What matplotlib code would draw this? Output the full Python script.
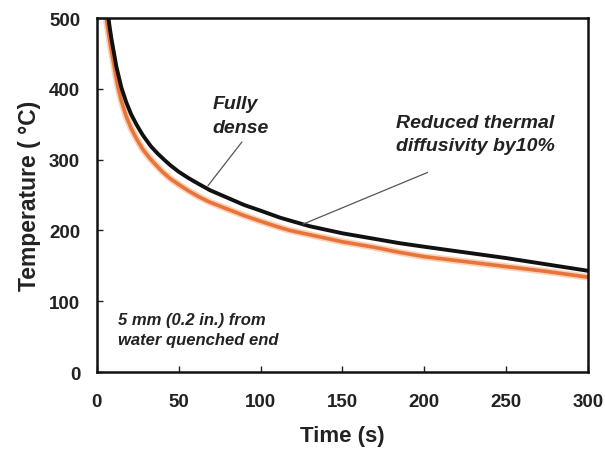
import matplotlib.pyplot as plt

# curves
t_dense = [7.1, 8, 9, 10, 12, 15, 18, 21, 24.4, 28, 33, 37, 41.6, 45, 50, 56, 62, 69,
           80, 90, 100, 112, 118, 130, 150, 170, 185, 200, 225, 250, 275, 300]
T_dense = [500, 485, 470, 457, 431, 402, 381, 364, 349, 335, 319, 309, 299, 292, 283, 274, 266, 257,
           246, 236, 228, 218, 214, 206, 196, 188, 182, 177, 169, 161, 152, 143]

t_red = [5.8, 7, 8.5, 10, 11.5, 12.8, 15, 18, 21, 24.4, 28, 32, 35.5, 40, 45, 50, 56, 62, 69,
         80, 90, 100, 112, 118, 130, 150, 170, 185, 200, 225, 250, 275, 300]
T_red = [500, 481, 459, 440, 420, 404, 383, 361, 344, 329, 315, 303, 294, 283, 273, 265, 256, 248, 240,
         230, 221, 213, 204, 200, 194, 184, 176, 169, 163, 156, 149, 142, 134]

x_ticks = [0, 50, 100, 150, 200, 250, 300]
y_ticks = [0, 100, 200, 300, 400, 500]

plt.rcParams['font.family'] = ['Liberation Sans', 'DejaVu Sans']
plt.rcParams['font.weight'] = 'bold'

fig = plt.figure(figsize=(6.05, 4.56), dpi=100)
ax = fig.add_axes([0.160, 0.182, 0.812, 0.776])

ax.plot(t_red, T_red, color='#f9d2b8', lw=5, solid_capstyle='butt')
ax.plot(t_red, T_red, color='#e8743c', lw=2.6, solid_capstyle='butt')
ax.plot(t_dense, T_dense, color='#111111', lw=2.8, solid_capstyle='butt')

ax.set_xlim(0, 300)
ax.set_ylim(0, 500)
ax.set_xticks(x_ticks)
ax.set_yticks(y_ticks)
ax.tick_params(direction='in', length=4, width=1, labelsize=13.5,
               colors='#222222')
ax.tick_params(axis='x', pad=15)
ax.tick_params(axis='y', pad=12)
for s in ax.spines.values():
    s.set_linewidth(1.8)
    s.set_color('#111111')

ax.set_xlabel('Time (s)', fontsize=16, fontweight='bold', labelpad=11, color='#222222')
ax.set_ylabel('Temperature ( °C)', fontsize=16.5, fontweight='bold', labelpad=6, color='#222222')

txt = dict(fontsize=14, fontstyle='italic', fontweight='bold', color='#222222')
line = dict(arrowstyle='-', color='#555555', lw=0.9, shrinkA=0, shrinkB=0)

# annotations
ax.text(70.9, 362, 'Fully\ndense', ha='left', va='center', linespacing=1.55, **txt)
ax.annotate('', xy=(67.8, 263), xytext=(88.6, 325), arrowprops=line)
ax.text(183, 336, 'Reduced thermal\ndiffusivity by10%', ha='left', va='center',
        linespacing=1.5, **txt)
ax.annotate('', xy=(126, 209), xytext=(202, 282), arrowprops=line)
ax.text(12.8, 60, '5 mm (0.2 in.) from\nwater quenched end', ha='left', va='center',
        fontsize=12, fontstyle='italic', fontweight='bold', color='#222222',
        linespacing=1.35)

fig.savefig('out.png', dpi=100)
